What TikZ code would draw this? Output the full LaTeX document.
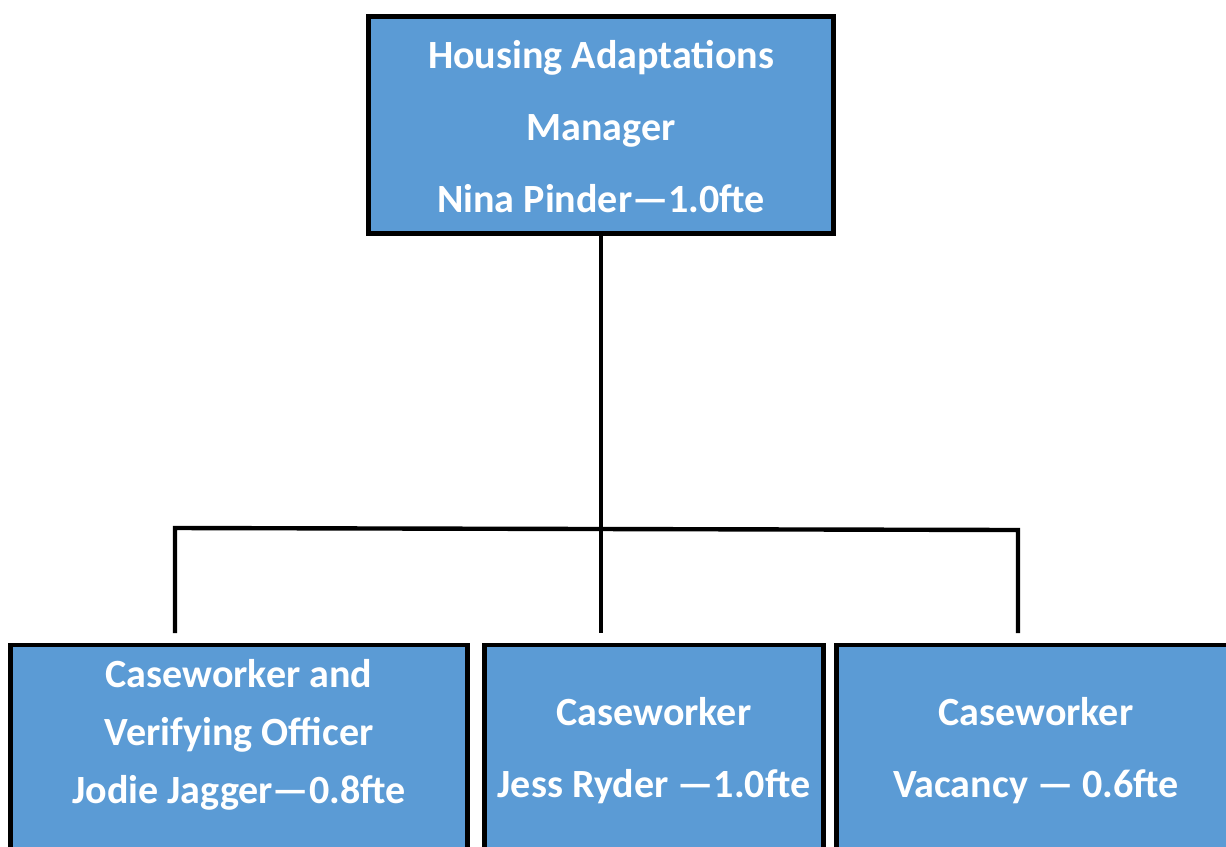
\documentclass[tikz,border=0pt]{standalone}
\usepackage{fontspec}
\setmainfont{Carlito}
\usetikzlibrary{positioning, calc}
\definecolor{boxblue}{HTML}{5B9BD5}
\tikzset{
  orgbox/.style={draw=black, line width=2.8pt, fill=boxblue, inner sep=0pt},
  orgtext/.style={text=white, font=\bfseries\fontsize{22.8}{40.8}\selectfont, align=center, anchor=base},
  tighttext/.style={orgtext, font=\bfseries\fontsize{22.8}{32.9}\selectfont},
  link/.style={line width=2.5pt}
}

\begin{document}
\begin{tikzpicture}[x=0.02cm, y=-0.02cm]
    \useasboundingbox (0,0) rectangle (1226,846);
    \clip (0,0) rectangle (1226,846);

    % manager
    \node[orgbox, minimum width=9.3cm, minimum height=4.34cm] (mgr) at (601,125) {};
    \node[orgtext] (mgrtxt) at (601,212) {Housing Adaptations\\Manager\\Nina Pinder—1.0fte};

    % caseworkers
    \node[orgbox, anchor=north, minimum width=9.13cm, minimum height=5.2cm] (jodie) at (239,642.5) {};
    \node[tighttext] (jodietxt) at (239,803) {Caseworker and\\Verifying Officer\\Jodie Jagger—0.8fte};
    \node[orgbox, anchor=north, minimum width=6.78cm, minimum height=5.2cm] (jess) at (654,642.5) {};
    \node[orgtext] (jesstxt) at (654,797) {Caseworker\\Jess Ryder —1.0fte};
    \node[orgbox, anchor=north, minimum width=8cm, minimum height=5.2cm] (vac) at (1036,642.5) {};
    \node[orgtext] (vactxt) at (1036,797) {Caseworker\\Vacancy — 0.6fte};

    % connectors
    \coordinate (barL) at (175,528);
    \coordinate (barR) at (1018,530);
    \draw[link, shorten >=0.19cm] (mgr.south) -- (mgr.south |- jess.north);
    \draw[link, shorten <=0.19cm, shorten >=0.19cm] (barL |- jodie.north) -- (barL) -- (barR) -- (barR |- vac.north);
\end{tikzpicture}
\end{document}
